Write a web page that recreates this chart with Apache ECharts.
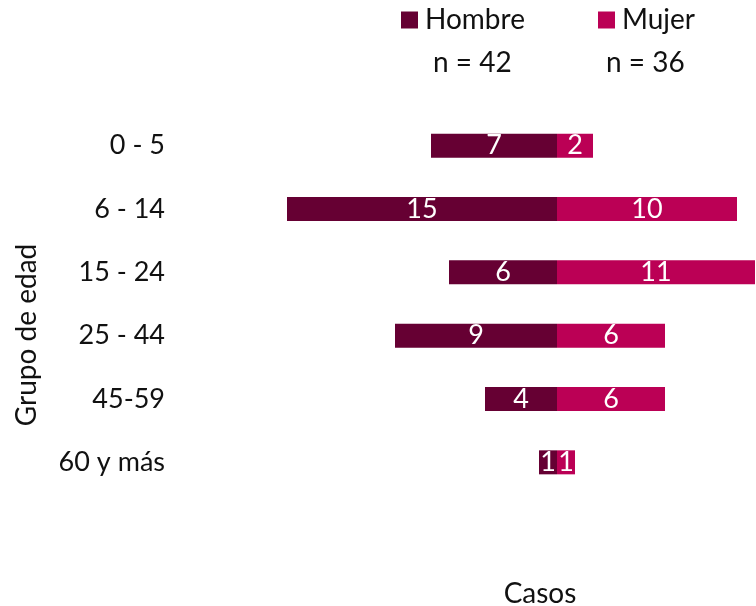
<!DOCTYPE html>
<html>
<head>
<meta charset="utf-8">
<script src="https://cdn.jsdelivr.net/npm/echarts@6/dist/echarts.min.js"></script>
<style>
  html, body { margin: 0; padding: 0; background: #fff; }
  #chart { width: 756px; height: 606px; }
</style>
</head>
<body>
<div id="chart"></div>
<script>
// datos
const grupos = ['0 - 5', '6 - 14', '15 - 24', '25 - 44', '45-59', '60 y más']
const hombre = [7, 15, 6, 9, 4, 1]
const mujer = [2, 10, 11, 6, 6, 1]

const nHombre = hombre.reduce((a, b) => a + b, 0)
const nMujer = mujer.reduce((a, b) => a + b, 0)

const FONT = 'Lato, "Open Sans", sans-serif'
const chart = echarts.init(document.getElementById('chart'))

const option = {
  animation: false,
  textStyle: { fontFamily: FONT },
  legend: [
    {
      data: ['Hombre'], left: 396, top: 1,
      itemWidth: 17, itemHeight: 17, icon: 'rect',
      textStyle: { fontSize: 28, color: '#111', fontFamily: FONT, padding: [0, 0, 0, 2] }
    },
    {
      data: ['Mujer'], left: 593, top: 1,
      itemWidth: 17, itemHeight: 17, icon: 'rect',
      textStyle: { fontSize: 28, color: '#111', fontFamily: FONT, padding: [0, 0, 0, 2] }
    }
  ],
  graphic: [
    { type: 'text', left: 433, top: 49, style: { text: 'n = ' + nHombre, fontSize: 28, fill: '#111', fontFamily: FONT } },
    { type: 'text', left: 606, top: 49, style: { text: 'n = ' + nMujer, fontSize: 28, fill: '#111', fontFamily: FONT } }
  ],
  grid: { left: 179, right: 1, top: 114, height: 380, outerBoundsMode: 'none', containLabel: false },
  xAxis: {
    type: 'value',
    min: -21,
    max: 11,
    axisLabel: { show: false },
    axisLine: { show: false },
    axisTick: { show: false },
    splitLine: { show: false },
    name: 'Casos',
    nameLocation: 'middle',
    nameGap: 86,
    nameTextStyle: { fontSize: 28, color: '#111', padding: [0, 0, 0, 146] }
  },
  yAxis: {
    type: 'category',
    data: grupos,
    inverse: true,
    axisLine: { show: false, onZero: false },
    axisTick: { show: false },
    axisLabel: { fontSize: 27, color: '#111', margin: 14 },
    name: 'Grupo de edad',
    nameLocation: 'middle',
    nameGap: 138,
    nameTextStyle: { fontSize: 28, color: '#111', padding: [0, 62, 0, 0] }
  },
  series: [
    {
      name: 'Hombre',
      type: 'bar',
      stack: 'total',
      barWidth: 24,
      itemStyle: { color: '#660033' },
      label: {
        show: true, position: 'inside', color: '#fff', fontSize: 27,
        padding: [3, 0, 0, 0],
        formatter: p => Math.abs(p.value)
      },
      data: hombre.map(v => -v)
    },
    {
      name: 'Mujer',
      type: 'bar',
      stack: 'total',
      barWidth: 24,
      itemStyle: { color: '#bb0055' },
      label: { show: true, position: 'inside', color: '#fff', fontSize: 27, padding: [3, 0, 0, 0] },
      data: mujer
    }
  ]
}

chart.setOption(option)
</script>
</body>
</html>
